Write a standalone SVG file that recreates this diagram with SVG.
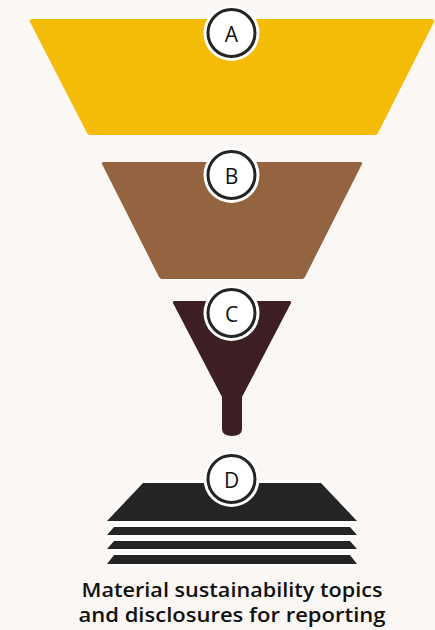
<svg xmlns="http://www.w3.org/2000/svg" width="435" height="630" viewBox="0 0 435 630">
<style>
.ring{fill:#ffffff;stroke:#242424;stroke-width:3}
.halo{fill:#ffffff}
.lbl{font-family:"Open Sans","Liberation Sans",sans-serif;font-weight:600;font-size:19px;fill:#111111;text-anchor:middle}
.cl{font-family:"Open Sans","Liberation Sans",sans-serif;font-weight:500;font-size:21px;fill:#111111;text-anchor:middle;dominant-baseline:central}
.plate{fill:#242424}
.ph{fill:#ffffff}
</style>
<rect width="435" height="630" fill="#FBF7F4"/>
<g id="A">
<path d="M32,19 L432,19 Q435,19 434,22 L378,133 Q377,135 375,135 L90,135 Q88,135 87,133 L30,22 Q29,19 32,19 Z" fill="#F5BC07"/>
<circle class="halo" cx="231.5" cy="33" r="28"/>
<circle class="ring" cx="231.5" cy="33" r="23.5"/>
<text class="cl" x="231.5" y="34">A</text>
</g>
<g id="B">
<path d="M104,162 L360,162 Q363,162 362,164 L305,277 Q304,279 302,279 L162,279 Q160,279 159,277 L102,164 Q101,162 104,162 Z" fill="#946440"/>
<circle class="halo" cx="231.5" cy="175" r="28"/>
<circle class="ring" cx="231.5" cy="175" r="23.5"/>
<text class="cl" x="231.5" y="176">B</text>
</g>
<g id="C">
<path d="M175,301 L289,301 Q292,301 291,303 L242,397 L242,429 Q242,436 232,436 Q222,436 222,429 L222,397 L173,303 Q172,301 175,301 Z" fill="#3D1E22"/>
<circle class="halo" cx="231.5" cy="313" r="28"/>
<circle class="ring" cx="231.5" cy="313" r="23.5"/>
<text class="cl" x="231.5" y="314">C</text>
</g>
<g id="D">
<path class="ph" d="M112,553 L352,553 L361,566 L103,566 Z"/>
<path class="ph" d="M112,539 L352,539 L361,551 L103,551 Z"/>
<path class="ph" d="M112,525 L352,525 L361,537 L103,537 Z"/>
<path class="ph" d="M141,480 L323,480 L361,523 L103,523 Z"/>
<path class="plate" d="M114,555 L350,555 L357,564 L107,564 Z"/>
<path class="plate" d="M114,541 L350,541 L357,549 L107,549 Z"/>
<path class="plate" d="M114,527 L350,527 L357,535 L107,535 Z"/>
<path class="plate" d="M143,483 L321,483 L357,521 L107,521 Z"/>
<circle class="halo" cx="231.5" cy="479" r="28"/>
<circle class="ring" cx="231.5" cy="479" r="23.5"/>
<text class="cl" x="231.5" y="480">D</text>
</g>
<g id="caption">
<text class="lbl" x="232" y="597" textLength="301" lengthAdjust="spacingAndGlyphs">Material sustainability topics</text>
<text class="lbl" x="232" y="622" textLength="307" lengthAdjust="spacingAndGlyphs">and disclosures for reporting</text>
</g>
<g id="connectors"/>
</svg>
